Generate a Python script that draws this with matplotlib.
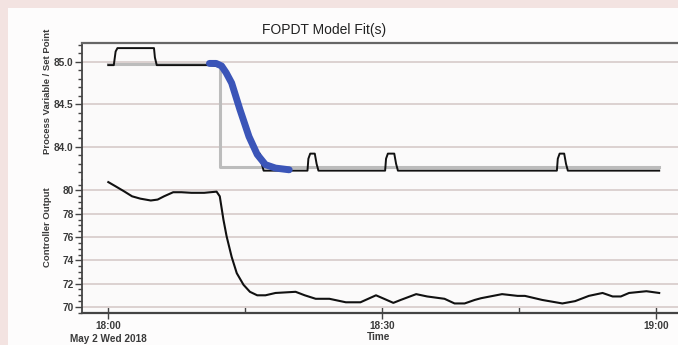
import matplotlib.pyplot as plt
from matplotlib.patches import Rectangle
from matplotlib.ticker import MultipleLocator, FixedLocator
import numpy as np

# time in minutes after 18:00
# process variable (black)
pv_t = [0, 0.6, 0.8, 1.0, 5.0, 5.1, 5.3, 11.1, 12.4, 13.5, 14.4, 15.4, 16.2, 16.4,
        16.5, 16.6, 16.8, 17.0, 21.8, 21.9, 22.1, 22.6, 22.8, 23.0,
        30.3, 30.4, 30.6, 31.3, 31.5, 31.7, 49.1, 49.2, 49.4, 49.9, 50.1, 50.3, 60.3]
pv_y = [84.96, 84.96, 85.12, 85.16, 85.16, 85.05, 84.96, 84.96, 84.94, 84.75, 84.44, 84.12, 83.92, 83.86,
        83.92, 83.92, 83.8, 83.72, 83.72, 83.86, 83.92, 83.92, 83.8, 83.72,
        83.72, 83.86, 83.92, 83.92, 83.8, 83.72, 83.72, 83.86, 83.92, 83.92, 83.8, 83.72, 83.72]

# set point (gray)
sp_t = [0, 12.2, 12.2, 60.3]
sp_y = [84.97, 84.97, 83.76, 83.76]

# FOPDT model fit (blue)
fit_t = [11.07, 11.8, 12.4, 12.9, 13.5, 14.4, 15.4, 16.3, 17.2, 18.3, 19.8]
fit_y = [84.98, 84.98, 84.95, 84.87, 84.75, 84.44, 84.12, 83.91, 83.79, 83.75, 83.73]

# controller output (black, bottom)
co_t = [0, 0.77, 1.7, 2.6, 3.5, 4.65, 5.4, 6.1, 7.1, 8.0, 9.1, 10.5, 11.85, 12.2, 12.6, 12.95,
        13.5, 14.06, 14.8, 15.5, 16.3, 17.2, 18.3, 20.5, 21.5, 22.7, 24.2, 24.8, 26.0, 27.6,
        29.3, 30.3, 31.2, 32.0, 33.7, 34.9, 36.8, 37.9, 39.0, 40.1, 40.8, 43.1, 44.8, 45.6,
        47.5, 49.7, 51.1, 52.6, 54.1, 55.2, 56.1, 57.0, 58.9, 60.3]
co_y = [80.72, 80.37, 79.94, 79.5, 79.3, 79.14, 79.22, 79.5, 79.85, 79.85, 79.8, 79.8, 79.9, 79.5, 77.5, 76.06,
        74.3, 72.9, 71.9, 71.3, 71.0, 71.0, 71.2, 71.3, 71.0, 70.7, 70.7, 70.6, 70.4, 70.4,
        71.0, 70.66, 70.35, 70.6, 71.1, 70.9, 70.7, 70.3, 70.3, 70.6, 70.75, 71.1, 70.95, 70.95,
        70.6, 70.3, 70.5, 70.95, 71.2, 70.9, 70.9, 71.2, 71.35, 71.2]

xticks = [0, 30, 60]
xticklabels = ["18:00\nMay 2 Wed 2018", "18:30", "19:00"]

plt.rcParams['font.family'] = ['Liberation Sans', 'DejaVu Sans']

fig = plt.figure(figsize=(6.78, 3.45), dpi=100)
fig.patch.set_facecolor('#f3e3e1')
fig.patches.append(Rectangle((8/678, 0), 1, 1 - 8/345, transform=fig.transFigure,
                             facecolor='#fdfcfc', edgecolor='none', zorder=-10))

ax1 = fig.add_axes([82/678, 1 - 180/345, 1 - 82/678 + 0.01, (180 - 43)/345])
ax2 = fig.add_axes([82/678, 1 - 313/345, 1 - 82/678 + 0.01, (313 - 180)/345], sharex=ax1)

gridc = '#dcd1d0'
for ax in (ax1, ax2):
    ax.set_facecolor('#fbfafa')
    ax.spines['right'].set_visible(False)
    ax.spines['left'].set_color('#444444')
    ax.spines['left'].set_linewidth(1.3)
    ax.yaxis.grid(True, color=gridc, linewidth=1.4)
    ax.set_axisbelow(True)
    ax.tick_params(axis='y', which='major', direction='out', length=5, width=1, color='#444444',
                   labelsize=7.3, labelcolor='#3a3a3a', pad=1)
    ax.tick_params(axis='y', which='minor', direction='out', length=3, width=1, color='#444444')

ax1.spines['bottom'].set_visible(False)
ax1.spines['top'].set_color('#666666')
ax1.spines['top'].set_linewidth(1.6)
ax2.spines['top'].set_visible(False)
ax2.spines['bottom'].set_color('#444444')
ax2.spines['bottom'].set_linewidth(1.6)

ax1.plot(sp_t, sp_y, color='#bcbcbc', linewidth=2.2, zorder=2)
ax1.plot(pv_t, pv_y, color='#111111', linewidth=1.4, zorder=3)
ax1.plot(fit_t, fit_y, color='#3b55b8', linewidth=5, solid_capstyle='round',
         solid_joinstyle='round', zorder=4)
ax2.plot(co_t, co_y, color='#111111', linewidth=1.5, zorder=3)

ax1.set_ylim(83.61, 85.22)
ax1.yaxis.set_major_locator(FixedLocator([84.0, 84.5, 85.0]))
ax1.yaxis.set_minor_locator(MultipleLocator(0.1))
ax1.set_yticklabels(["84.0", "84.5", "85.0"])
ax1.tick_params(axis='x', which='both', bottom=False, labelbottom=False)

ax2.set_ylim(69.48, 80.9)
ax2.yaxis.set_major_locator(MultipleLocator(2))
ax2.yaxis.set_minor_locator(MultipleLocator(0.5))

ax2.set_xlim(-2.88, 63.1)
ax2.set_xticks(xticks)
ax2.set_xticklabels(xticklabels, linespacing=1.45)
ax2.xaxis.set_minor_locator(FixedLocator([15, 45]))
ax2.tick_params(axis='x', which='major', direction='inout', length=9, width=1, color='#444444',
                labelsize=7.2, labelcolor='#3a3a3a', pad=1)
ax2.tick_params(axis='x', which='minor', direction='in', length=5, width=1, color='#444444')
for lab in ax2.get_xticklabels() + ax2.get_yticklabels() + ax1.get_yticklabels():
    lab.set_fontweight('bold')

fig.text(324/678, 1 - 30/345, "FOPDT Model Fit(s)", ha='center', va='center', fontsize=10,
         color='#222222')
fig.text(47/678, 1 - 91/345, "Process Variable / Set Point", rotation=90, ha='center', va='center',
         fontsize=6.8, color='#3a3a3a', fontweight='bold')
fig.text(47/678, 1 - 227/345, "Controller Output", rotation=90, ha='center', va='center',
         fontsize=6.8, color='#3a3a3a', fontweight='bold')
fig.text(379/678, 1 - 337/345, "Time", ha='center', va='center',
         fontsize=7.2, color='#3a3a3a', fontweight='bold')

fig.savefig('out.png', dpi=100, facecolor=fig.get_facecolor())
